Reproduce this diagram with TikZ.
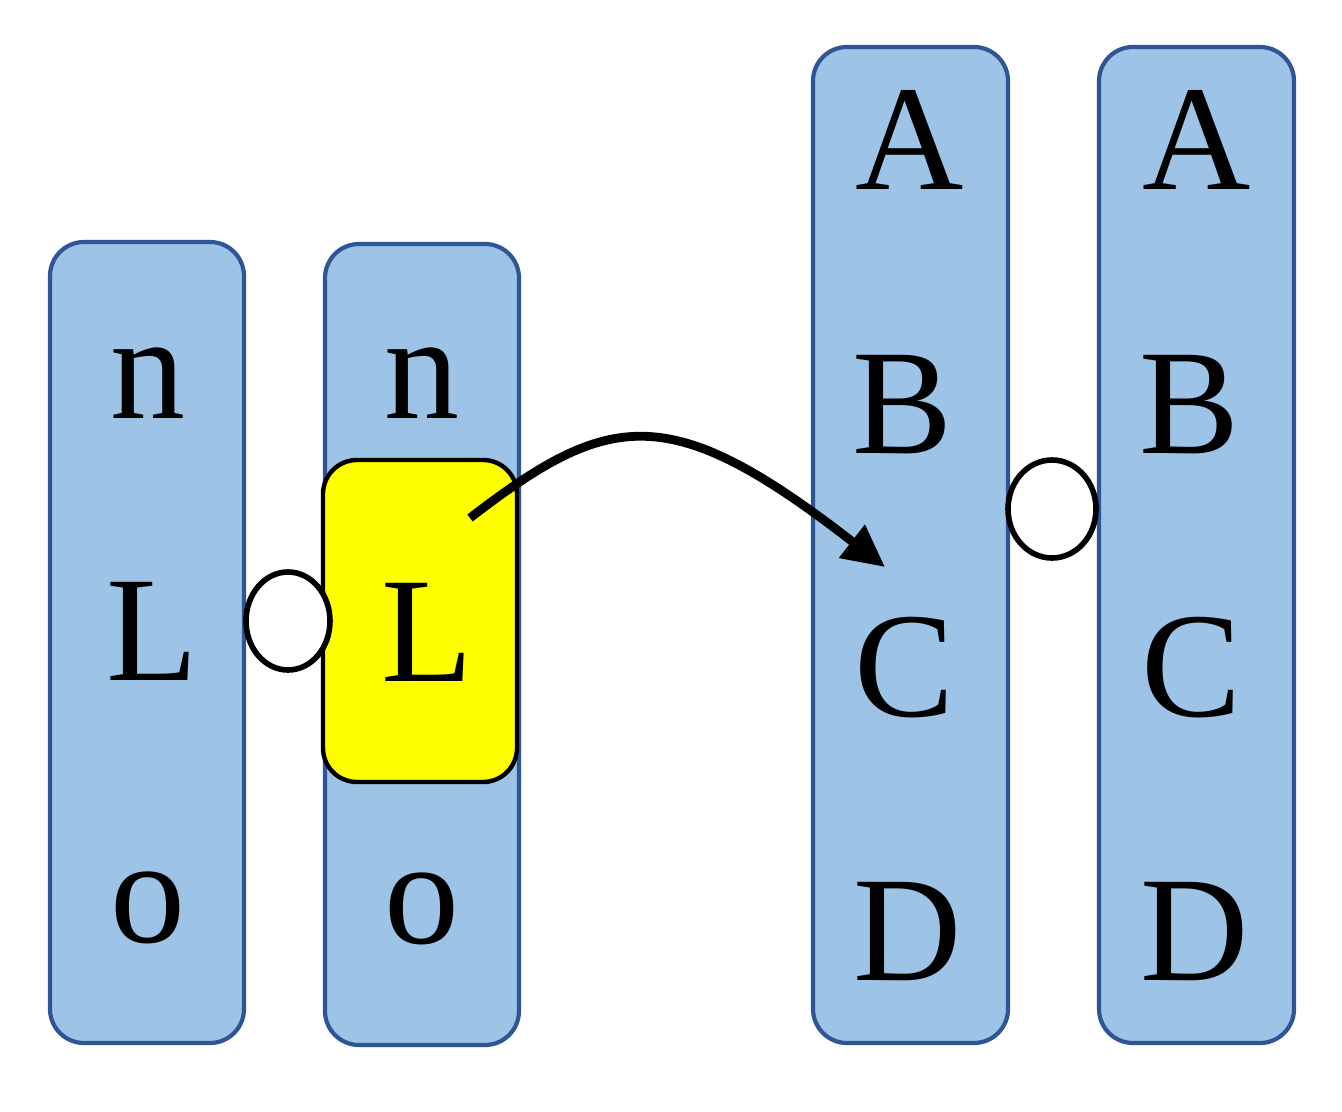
\documentclass[tikz,border=0pt]{standalone}
\usepackage{fontspec}
\setmainfont{Liberation Serif}
\usetikzlibrary{arrows.meta,shapes.geometric}
\definecolor{colfill}{HTML}{9DC3E6}
\definecolor{colborder}{HTML}{2F5597}
\definecolor{hiyellow}{HTML}{FFFF00}
\begin{document}
\begin{tikzpicture}[x=0.5pt,y=-0.5pt,
  column/.style={draw=colborder,fill=colfill,line width=2.1pt,rounded corners=17pt},
  hilite/.style={draw=black,fill=hiyellow,line width=2.2pt,rounded corners=17pt},
  link/.style={draw=black,fill=white,line width=2.8pt,ellipse,inner sep=0pt},
  letter/.style={font=\fontsize{75}{80}\selectfont,anchor=base,inner sep=0pt}]
\useasboundingbox (0,0) rectangle (1342,1112);
\draw[column] (50,242) rectangle (244,1043);
\draw[column] (325,244) rectangle (519,1045);
\draw[column] (813,47) rectangle (1008,1043);
\draw[column] (1099,47) rectangle (1294,1043);
\draw[hilite] (323,460) rectangle (517,782);
\node[link,minimum width=42pt,minimum height=49pt] (c1) at (288,621) {};
\node[link,minimum width=44pt,minimum height=49pt] (c2) at (1052,509) {};
\node[letter] (n1) at (148,418) {n};
\node[letter] (L1) at (152,680) {L};
\node[letter] (o1) at (148,942) {o};
\node[letter] (n2) at (422,418) {n};
\node[letter] (L2) at (427,681) {L};
\node[letter] (o2) at (422,943) {o};
\node[letter] (A3) at (910,190) {A};
\node[letter] (B3) at (903,453) {B};
\node[letter] (C3) at (905,716) {C};
\node[letter] (D3) at (908,980) {D};
\node[letter] (A4) at (1197,190) {A};
\node[letter] (B4) at (1190,453) {B};
\node[letter] (C4) at (1192,716) {C};
\node[letter] (D4) at (1195,980) {D};
\coordinate (s) at (470,518);
\coordinate (e) at (885,567);
\draw[line width=4.4pt,-{Triangle[length=21pt,width=20pt]}] (s) .. controls (610,410) and (670,400) .. (e);
\end{tikzpicture}
\end{document}
